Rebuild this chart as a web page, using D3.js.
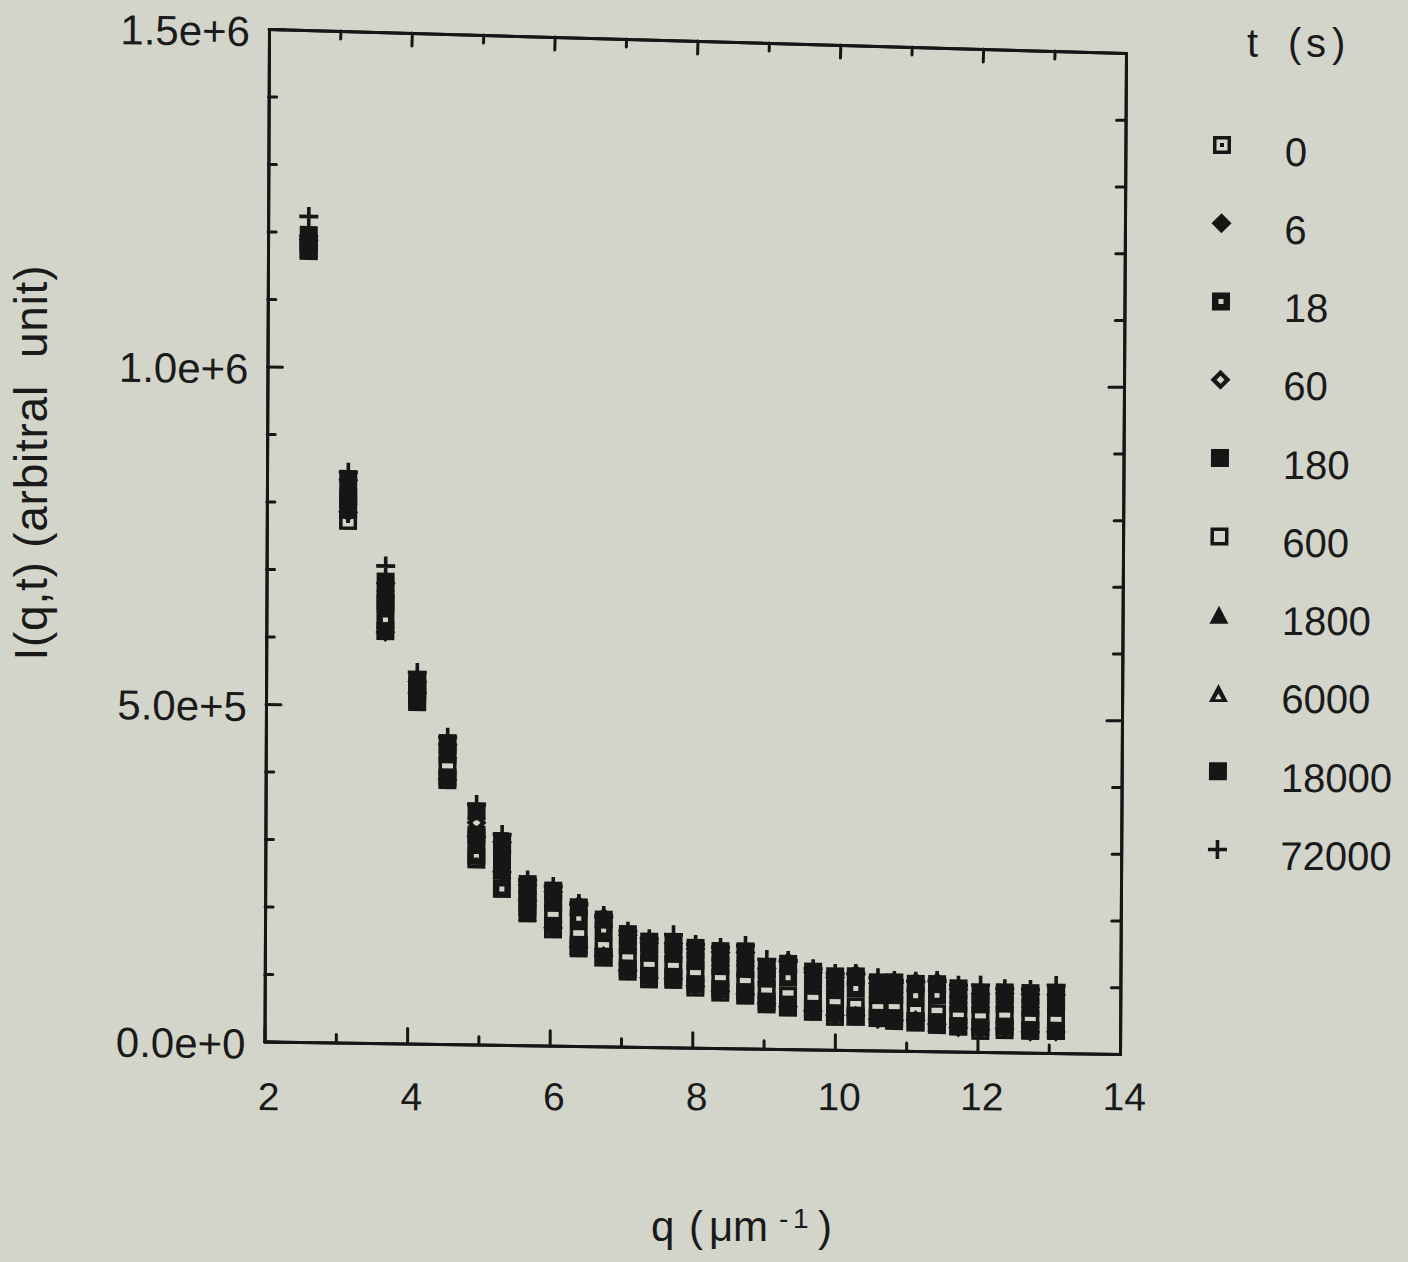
<!DOCTYPE html>
<html>
<head>
<meta charset="utf-8">
<script src="https://cdn.jsdelivr.net/npm/d3@7"></script>
<style>
  html, body { margin: 0; padding: 0; background: #d3d5ca; }
  svg { display: block; }
  text { font-family: "Liberation Sans", Arial, Helvetica, sans-serif; fill: #1a1a1a; }
</style>
</head>
<body>
<svg id="chart" width="1408" height="1262"></svg>
<script>
// Scattering vector q (1/um) of each measured point
const qValues = [2.57, 3.14, 3.67, 4.12, 4.55, 4.96, 5.32, 5.68, 6.04, 6.40, 6.75, 7.09, 7.39, 7.73, 8.04,
                 8.39, 8.74, 9.04, 9.34, 9.69, 10.00, 10.29, 10.60, 10.83, 11.13, 11.43, 11.73, 12.04, 12.38, 12.74, 13.10];

// Elapsed time of each scan, in seconds (legend order)
const seriesTimes = ["0", "6", "18", "60", "180", "600", "1800", "6000", "18000", "72000"];

// Scattered intensity I(q,t) for every time, one value per q
const I_t0 = [1183900, 772900, 610700, 513600, 391000, 274200, 257800, 204900, 172400, 144900, 132400, 111300, 100400, 100000, 89000,
              82200, 78500, 65900, 61500, 55600, 49000, 49500, 48100, 44000, 44400, 39000, 37900, 31100, 33000, 33600, 32700];
const I_t6 = [1188300, 786200, 609200, 519500, 392100, 308000, 256300, 214500, 174600, 146400, 133900, 113000, 102600, 101700, 91200,
              84400, 80700, 67100, 63000, 57300, 51200, 51000, 46400, 45100, 45900, 40400, 35700, 33300, 35200, 30900, 31500];
const I_t18 = [1173500, 789200, 627000, 522500, 395100, 279400, 231100, 217500, 177600, 189300, 172400, 116000, 105600, 104700, 94200,
               87400, 83700, 70100, 105800, 60300, 54200, 91300, 47900, 48100, 81900, 83100, 37200, 36300, 38200, 32400, 33000];
const I_t60 = [1194200, 833600, 681800, 536300, 444300, 328700, 300700, 237500, 228100, 208600, 191000, 165600, 154700, 154400, 146400,
               142100, 142500, 119200, 129200, 113800, 107400, 112300, 99500, 99800, 102300, 102700, 92300, 85900, 87400, 86900, 86100];
const I_t180 = [1172000, 808500, 657300, 506200, 429200, 311000, 275600, 195600, 211700, 150100, 133200, 150100, 139700, 138800, 128300,
                121500, 117800, 104100, 65800, 94400, 88300, 51300, 81900, 82200, 43700, 43100, 71300, 70400, 72300, 66500, 67100];
const I_t600 = [1182400, 804000, 652200, 531400, 412200, 306100, 288900, 230100, 194700, 163400, 146500, 133000, 122700, 121800, 111300,
                104400, 100700, 87100, 79100, 77300, 71300, 64600, 64900, 65200, 57000, 56400, 54200, 53300, 55300, 49500, 50100];
const I_t1800 = [1175000, 818800, 655900, 509200, 436900, 303100, 259300, 197500, 220700, 148600, 131700, 158200, 147300, 147000, 139000,
                 134700, 135100, 111900, 64300, 106400, 100000, 49800, 92100, 92400, 42200, 41600, 84900, 78500, 80000, 79600, 78700];
const I_t6000 = [1193500, 832900, 682500, 535600, 443600, 347600, 299600, 236800, 227400, 207100, 189500, 164900, 154000, 153700, 145700,
                 141400, 141800, 118500, 127700, 113100, 106700, 110800, 98800, 99100, 100800, 101200, 91600, 85200, 86700, 86200, 85400];
const I_t18000 = [1195700, 835100, 683700, 537800, 445800, 345600, 301800, 239000, 229600, 205600, 188000, 167100, 156200, 155900, 147900,
                  143600, 144000, 120700, 126200, 115300, 108900, 109300, 101000, 101300, 99300, 99700, 93800, 87400, 88900, 88400, 87600];
const I_t72000 = [1223100, 845200, 707000, 549900, 454800, 355700, 311900, 244900, 235900, 211300, 193900, 171300, 160400, 167000, 153000,
                  149200, 152600, 132300, 131400, 119600, 113000, 113500, 107700, 104000, 103400, 104900, 98400, 99000, 94100, 93600, 100100];

const seriesValues = [I_t0, I_t6, I_t18, I_t60, I_t180, I_t600, I_t1800, I_t6000, I_t18000, I_t72000];

// Axis ticks
const xMajorTicks = [2, 4, 6, 8, 10, 12, 14];
const xMinorTicks = [3, 5, 7, 9, 11, 13];
const yMajorTicks = [0, 500000, 1000000, 1500000];
const yMinorTicks = [100000, 200000, 300000, 400000, 600000, 700000, 800000, 900000, 1100000, 1200000, 1300000, 1400000];

const ink = "#161616";
const fontFamily = '"Liberation Sans", Arial, Helvetica, sans-serif';

// ---- marker shapes (centred paths) ----
const sq = h => `M${-h},${-h}H${h}V${h}H${-h}Z`;
const dia = r => `M0,${-r}L${r},0L0,${r}L${-r},0Z`;
const tri = h => `M0,${-h}L${h + 0.5},${h}L${-h - 0.5},${h}Z`;
const plus = (a, t) => `M${-a},${-t}H${a}V${t}H${-a}Z M${-t},${-a}H${t}V${a}H${-t}Z`;

const markerShapes = {
  "0":     { d: sq(9) + sq(5.5) + sq(2), rule: "evenodd" },
  "6":     { d: dia(10), rule: "evenodd" },
  "18":    { d: sq(9) + sq(2.5), rule: "evenodd" },
  "60":    { d: dia(10) + dia(4), rule: "evenodd" },
  "180":   { d: sq(9), rule: "evenodd" },
  "600":   { d: sq(9) + sq(5.5), rule: "evenodd" },
  "1800":  { d: tri(9), rule: "evenodd" },
  "6000":  { d: tri(9) + "M0,0.5L3.4,6.3L-3.4,6.3Z", rule: "evenodd" },
  "18000": { d: sq(9), rule: "evenodd" },
  "72000": { d: plus(9.5, 1.8), rule: "nonzero" }
};

const svg = d3.select("#chart");
svg.append("rect").attr("width", 1408).attr("height", 1262).attr("fill", "#d3d5ca");

// ---- plot area ----
const W = 855.5, H = 1012.5;
const shearY = 0.01461;
const x = d3.scaleLinear().domain([2, 14]).range([0, W]);
const y = d3.scaleLinear().domain([0, 1500000]).range([H, 0]);

// the frame sits slightly tilted on the page
const plot = svg.append("g").attr("transform", `matrix(1,${shearY},-0.00444,1,269,29)`);

function styleAxis(g, fontSize) {
  g.attr("font-family", fontFamily).attr("font-size", fontSize);
  g.selectAll("path.domain").attr("stroke", ink).attr("stroke-width", 3).attr("stroke-linecap", "round");
  g.selectAll(".tick line").attr("stroke", ink).attr("stroke-width", 3).attr("stroke-linecap", "round");
  g.selectAll(".tick text").attr("fill", "#1a1a1a");
}

// bottom axis
plot.append("g").attr("transform", `translate(0,${H})`)
  .call(d3.axisBottom(x).tickValues(xMinorTicks).tickSize(-8).tickSizeOuter(0).tickFormat(""))
  .call(g => styleAxis(g, 39));
plot.append("g").attr("transform", `translate(0,${H})`)
  .call(d3.axisBottom(x).tickValues(xMajorTicks).tickSize(-15).tickSizeOuter(0).tickPadding(37).tickFormat(d3.format("d")))
  .call(g => styleAxis(g, 39))
  // keep the number row level on the page while the frame is tilted
  .call(g => g.selectAll(".tick text").attr("dx", 4).attr("y", d => 41 - shearY * x(d)));

// left axis
plot.append("g")
  .call(d3.axisLeft(y).tickValues(yMinorTicks).tickSize(-8).tickSizeOuter(0).tickFormat(""))
  .call(g => styleAxis(g, 42));
plot.append("g")
  .call(d3.axisLeft(y).tickValues(yMajorTicks).tickSize(-15).tickSizeOuter(0).tickPadding(19).tickFormat(d3.format(".1e")))
  .call(g => styleAxis(g, 42))
  .call(g => g.selectAll(".tick text").attr("dy", "0.40em"));

// top axis (ticks only)
const xTop = x.copy().range([0, 857.3]);
const topAxis = svg.append("g").attr("transform", "translate(269,29) rotate(1.604)");
topAxis.call(d3.axisTop(xTop).tickValues(xMinorTicks).tickSize(-8).tickSizeOuter(0).tickFormat(""))
  .call(g => styleAxis(g, 10));
topAxis.append("g")
  .call(d3.axisTop(xTop).tickValues(xMajorTicks.slice(1, -1)).tickSize(-13).tickSizeOuter(0).tickFormat(""))
  .call(g => styleAxis(g, 10));

// right axis (ticks only)
const yRight = y.copy().range([1001, 0]);
const rightAxis = svg.append("g").attr("transform", "matrix(1,0,-0.005994,1,1126,53)");
rightAxis.call(d3.axisRight(yRight).tickValues(yMinorTicks).tickSize(-9).tickSizeOuter(0).tickFormat(""))
  .call(g => styleAxis(g, 10));
rightAxis.append("g")
  .call(d3.axisRight(yRight).tickValues(yMajorTicks.slice(1, -1)).tickSize(-15).tickSizeOuter(0).tickFormat(""))
  .call(g => styleAxis(g, 10));

// ---- data markers ----
seriesTimes.forEach((t, si) => {
  const shape = markerShapes[t];
  plot.append("g").attr("class", "series-" + t)
    .selectAll("path")
    .data(seriesValues[si].map((v, i) => ({ q: qValues[i], v })))
    .join("path")
    .attr("transform", d => `translate(${x(d.q)},${y(d.v)})`)
    .attr("d", shape.d)
    .attr("fill", ink)
    .attr("fill-rule", shape.rule);
});

// ---- axis titles ----
svg.append("text")
  .attr("transform", "translate(47,463) rotate(-90)")
  .attr("text-anchor", "middle")
  .attr("font-size", 46)
  .attr("textLength", 395)
  .attr("lengthAdjust", "spacing")
  .style("white-space", "pre")
  .text("I(q,t) (arbitral  unit)");

const xTitle = svg.append("text").attr("y", 1241).attr("font-size", 42);
xTitle.append("tspan").attr("x", 651).text("q");
xTitle.append("tspan").attr("x", 689).text("(");
xTitle.append("tspan").attr("x", 709).text("μ");
xTitle.append("tspan").attr("x", 733).text("m");
xTitle.append("tspan").attr("x", 779).attr("dy", -13).attr("font-size", 28).text("-");
xTitle.append("tspan").attr("x", 793).attr("font-size", 28).text("1");
xTitle.append("tspan").attr("x", 818).attr("dy", 13).attr("font-size", 42).text(")");

// ---- legend ----
const legendTitle = svg.append("text").attr("y", 57).attr("font-size", 40);
legendTitle.append("tspan").attr("x", 1247).text("t");
legendTitle.append("tspan").attr("x", 1288).text("(");
legendTitle.append("tspan").attr("x", 1306).text("s");
legendTitle.append("tspan").attr("x", 1332).text(")");

const legendY = d3.scalePoint().domain(seriesTimes).range([0, 704.5]);
const legend = svg.append("g").attr("transform", "translate(1222,145) skewX(-0.37)");
const rows = legend.selectAll("g").data(seriesTimes).join("g")
  .attr("transform", d => `translate(0,${legendY(d)})`);
rows.append("path")
  .attr("d", d => markerShapes[d].d)
  .attr("fill", ink)
  .attr("fill-rule", d => markerShapes[d].rule);
rows.append("text")
  .attr("x", 63)
  .attr("y", 20.5)
  .attr("font-size", 40)
  .text(d => d);
</script>
</body>
</html>
